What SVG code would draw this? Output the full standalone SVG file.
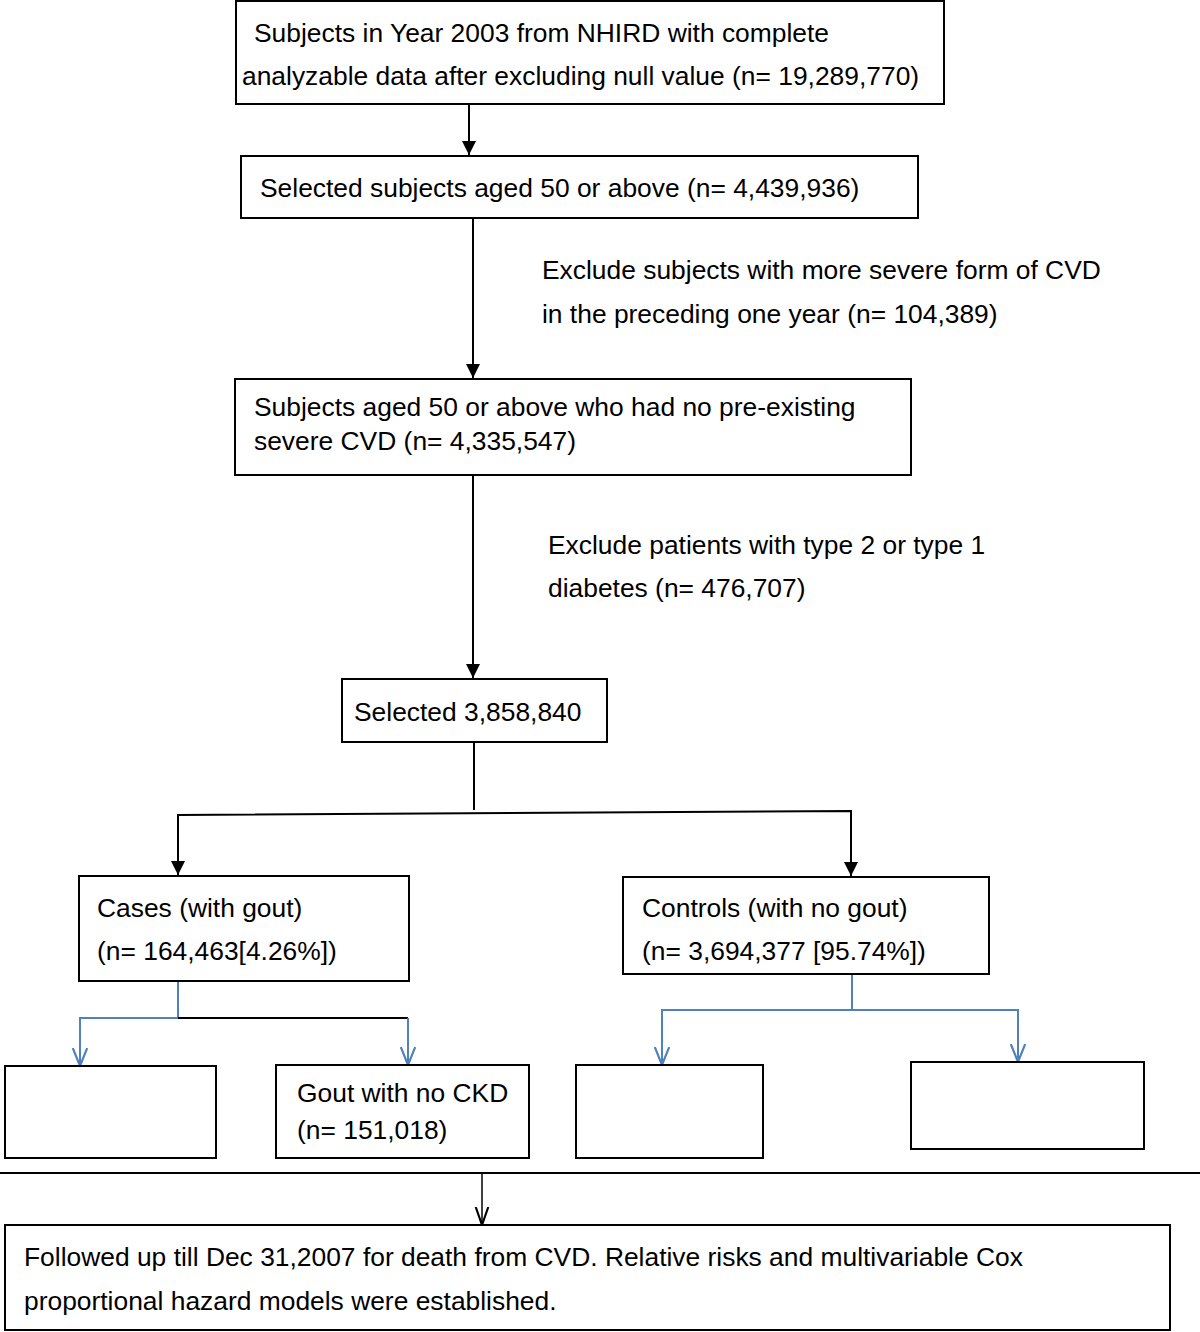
<svg xmlns="http://www.w3.org/2000/svg" width="1200" height="1332" viewBox="0 0 1200 1332">
<defs>
<style>
.box{fill:#fff;stroke:#000;stroke-width:2}
.t{font-family:"Liberation Sans",Arial,sans-serif;font-size:26.4px;fill:#000}
.k{fill:none;stroke:#000;stroke-width:2}
.b{fill:none;stroke:#4f81bd;stroke-width:2}
</style>
<marker id="fa" viewBox="0 0 10 10" refX="10" refY="5" markerWidth="16" markerHeight="14" markerUnits="userSpaceOnUse" orient="auto"><path d="M0,0 L10,5 L0,10 z" fill="#000"/></marker>
<marker id="ob" viewBox="0 0 10 10" refX="10" refY="5" markerWidth="18" markerHeight="18" markerUnits="userSpaceOnUse" orient="auto"><path d="M0,1 L10,5 L0,9" fill="none" stroke="#4f81bd" stroke-width="1.2"/></marker>
<marker id="ok" viewBox="0 0 10 10" refX="10" refY="5" markerWidth="18" markerHeight="18" markerUnits="userSpaceOnUse" orient="auto"><path d="M0,1.5 L10,5 L0,8.5" fill="none" stroke="#000" stroke-width="1.2"/></marker>
</defs>
<rect width="1200" height="1332" fill="#fff"/>
<g id="connectors">
<line class="k" x1="469" y1="104" x2="469" y2="155" marker-end="url(#fa)"/>
<line class="k" x1="473" y1="218" x2="473" y2="378" marker-end="url(#fa)"/>
<line class="k" x1="473" y1="475" x2="473" y2="678" marker-end="url(#fa)"/>
<line class="k" x1="474" y1="742" x2="474" y2="810"/>
<polyline class="k" points="178,815 851,811 851,876" marker-end="url(#fa)"/>
<line class="k" x1="178" y1="814" x2="178" y2="875" marker-end="url(#fa)"/>
<line class="b" x1="178" y1="981" x2="178" y2="1018"/>
<polyline class="b" points="178,1018 80,1018 80,1066" marker-end="url(#ob)"/>
<line class="k" x1="178" y1="1018" x2="408" y2="1018"/>
<line class="b" x1="408" y1="1018" x2="408" y2="1065" marker-end="url(#ob)"/>
<line class="b" x1="852" y1="974" x2="852" y2="1010"/>
<polyline class="b" points="852,1010 662,1010 662,1065" marker-end="url(#ob)"/>
<polyline class="b" points="852,1010 1018,1010 1018,1062" marker-end="url(#ob)"/>
<line class="k" x1="0" y1="1173" x2="1200" y2="1173"/>
<line x1="482" y1="1173" x2="482" y2="1225" stroke="#000" stroke-width="1.5" marker-end="url(#ok)"/>
</g>
<g id="n1"><rect class="box" x="236" y="1" width="708" height="103"/>
<text class="t" x="254" y="42">Subjects in Year 2003 from NHIRD with complete</text>
<text class="t" x="242" y="85">analyzable data after excluding null value (n= 19,289,770)</text></g>
<g id="n2"><rect class="box" x="241" y="156" width="677" height="62"/>
<text class="t" x="260" y="197">Selected subjects aged 50 or above (n= 4,439,936)</text></g>
<g id="l1"><text class="t" x="542" y="279">Exclude subjects with more severe form of CVD</text>
<text class="t" x="542" y="323">in the preceding one year (n= 104,389)</text></g>
<g id="n3"><rect class="box" x="235" y="379" width="676" height="96"/>
<text class="t" x="254" y="416">Subjects aged 50 or above who had no pre-existing</text>
<text class="t" x="254" y="450">severe CVD (n= 4,335,547)</text></g>
<g id="l2"><text class="t" x="548" y="554">Exclude patients with type 2 or type 1</text>
<text class="t" x="548" y="597">diabetes (n= 476,707)</text></g>
<g id="n4"><rect class="box" x="342" y="679" width="265" height="63"/>
<text class="t" x="354" y="721">Selected 3,858,840</text></g>
<g id="n5"><rect class="box" x="79" y="876" width="330" height="105"/>
<text class="t" x="97" y="917">Cases (with gout)</text>
<text class="t" x="97" y="960">(n= 164,463[4.26%])</text></g>
<g id="n6"><rect class="box" x="623" y="877" width="366" height="97"/>
<text class="t" x="642" y="917">Controls (with no gout)</text>
<text class="t" x="642" y="960">(n= 3,694,377 [95.74%])</text></g>
<g id="n7"><rect class="box" x="5" y="1066" width="211" height="92"/></g>
<g id="n8"><rect class="box" x="276" y="1065" width="253" height="93"/>
<text class="t" x="297" y="1102">Gout with no CKD</text>
<text class="t" x="297" y="1139">(n= 151,018)</text></g>
<g id="n9"><rect class="box" x="576" y="1065" width="187" height="93"/></g>
<g id="n10"><rect class="box" x="911" y="1062" width="233" height="87"/></g>
<g id="n11"><rect class="box" x="5" y="1225" width="1165" height="105"/>
<text class="t" x="24" y="1266">Followed up till Dec 31,2007 for death from CVD. Relative risks and multivariable Cox</text>
<text class="t" x="24" y="1310">proportional hazard models were established.</text></g>
</svg>
